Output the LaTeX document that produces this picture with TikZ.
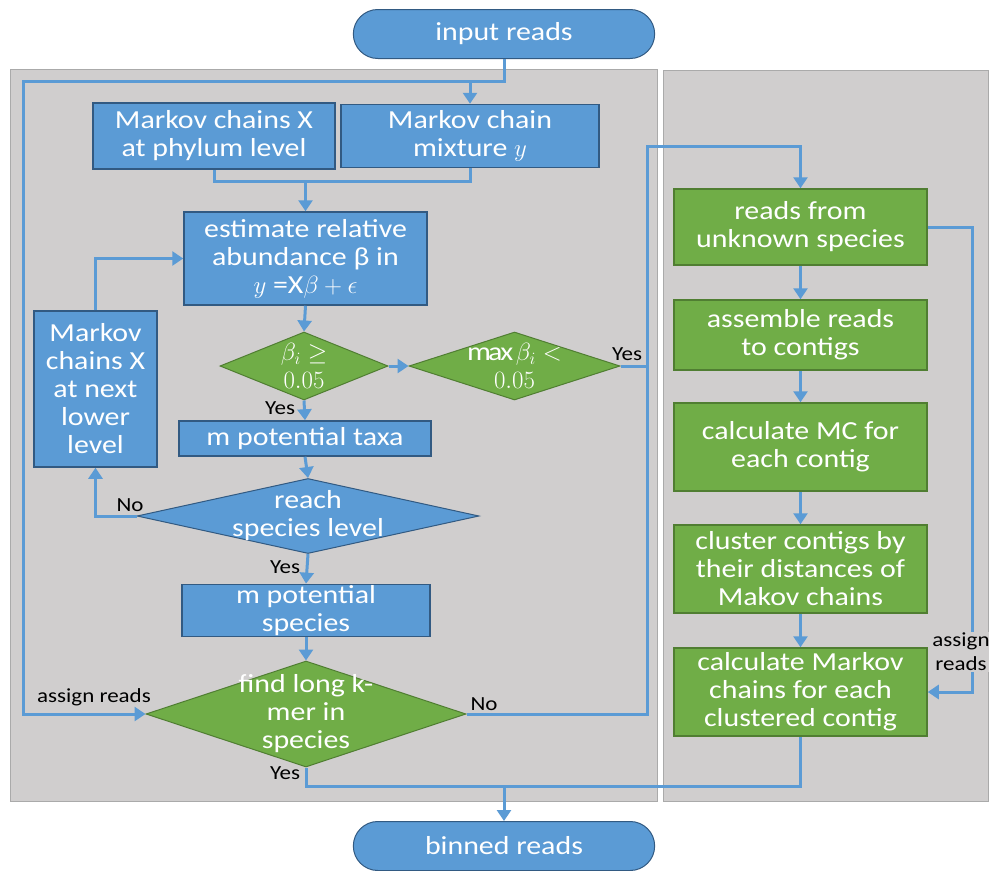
\documentclass[tikz,border=0pt]{standalone}
\usepackage{fontspec}
\setmainfont[FakeStretch=1.15]{Carlito}
\usetikzlibrary{shapes.geometric, shapes.misc, arrows.meta}
\definecolor{bfill}{RGB}{91,155,213}
\definecolor{bdraw}{RGB}{50,90,130}
\definecolor{gfill}{RGB}{112,173,71}
\definecolor{gdraw}{RGB}{80,126,50}
\definecolor{panel}{RGB}{208,206,206}
\definecolor{paneldraw}{RGB}{170,170,170}
\definecolor{flowc}{RGB}{91,155,213}
\tikzset{blockb/.style={draw=bdraw, fill=bfill, line width=1.5pt, text=white, align=center, inner sep=1pt, font=\fontsize{26}{28}\selectfont},
         blockg/.style={blockb, draw=gdraw, fill=gfill},
         terminal/.style={rounded rectangle, draw=bdraw, fill=bfill, line width=1pt, text=white, minimum width=308pt, minimum height=49pt, font=\fontsize{26}{28}\selectfont},
         decb/.style={diamond, draw=bdraw, fill=bfill, line width=1pt, inner sep=0pt},
         decg/.style={decb, draw=gdraw, fill=gfill},
         dtext/.style={text=white, align=center, inner sep=0pt, font=\fontsize{26}{28}\selectfont},
         flow/.style={line width=3pt, draw=flowc},
         note/.style={font=\fontsize{20}{24}\selectfont, inner sep=1pt},
        }

\begin{document}
\begin{tikzpicture}[x=1pt,y=-1pt,>={Triangle[length=11pt,width=14pt]}]
        \useasboundingbox (0,0) rectangle (989,871);
        % panels
        \draw[paneldraw, fill=panel](10,69) rectangle (657,801);
        \draw[paneldraw, fill=panel](663,70) rectangle (988,801);

        \node[terminal](inread)at(504,34){input reads};
        \node[terminal](outread)at(504,846){binned reads};

        \node[blockb,minimum width=242pt,minimum height=66pt](mcx)at(214,136){Markov chains X\\at phylum level};
        \node[blockb,minimum width=258pt,minimum height=63pt](mix)at(470,136){Markov chain\\mixture $y$};
        \node[blockb,minimum width=243pt,minimum height=93pt](est)at(305.5,258.5){estimate relative\\abundance β in\\$y$ =X$\beta+\epsilon$};
        \node[blockb,minimum width=123pt,minimum height=156pt](nxt)at(95.5,389){Markov\\chains X\\at next\\lower\\level};
        \node[decg,minimum width=168pt,minimum height=68pt,label={[dtext]center:{$\beta_i\geq$\\$0.05$}}](d1)at(304,366){};
        \node[decg,minimum width=211pt,minimum height=68pt,label={[dtext]center:{$\max\beta_i<$\\$0.05$}}](d2)at(514.5,366){};
        \node[blockb,minimum width=252pt,minimum height=35pt](taxa)at(305,438.5){m potential taxa};
        \node[decb,minimum width=342pt,minimum height=75pt,label={[dtext]center:{reach\\species level}}](reach)at(308,516){};
        \node[blockb,minimum width=248pt,minimum height=51pt](spec)at(306,610.5){m potential\\species};
        \node[decg,minimum width=320pt,minimum height=106pt,label={[dtext]center:{find long k-\\mer in\\species}}](find)at(306,714){};

        \node[blockg,minimum width=253pt,minimum height=76pt](unk)at(800.5,227){reads from\\unknown species};
        \node[blockg,minimum width=253pt,minimum height=70pt](asm)at(800.5,335){assemble reads\\to contigs};
        \node[blockg,minimum width=253pt,minimum height=88pt](mc)at(800.5,447){calculate MC for\\each contig};
        \node[blockg,minimum width=253pt,minimum height=88pt](clu)at(800.5,569){cluster contigs by\\their distances of\\Makov chains};
        \node[blockg,minimum width=253pt,minimum height=88pt](cmc)at(800.5,692){calculate Markov\\chains for each\\clustered contig};

        \coordinate(jt)at(470,81);
        \coordinate(jm)at(305.5,181);
        \coordinate(jr)at(647,366);
        \coordinate(jb)at(504,786);

        \draw[flow,->](inread.south)--(504,81)-|(23,714)--(find.west);
        \draw[flow,->](jt)--(mix.north);
        \draw[flow](mcx.south)|-(jm)-|(mix.south);
        \draw[flow,->](jm)--(est.north);
        \draw[flow,->](nxt.north)|-(est.west);
        \draw[flow,->](est.south)--(d1.north);
        \draw[flow,->](d1.east)--(d2.west);
        \draw[flow,->](d1.south)--(taxa.north);
        \draw[flow,->](taxa.south)--(reach.north);
        \draw[flow,->](reach.west)-|(nxt.south);
        \draw[flow,->](reach.south)--(spec.north);
        \draw[flow,->](spec.south)--(find.north);
        \draw[flow,->](d2.east)-|(647,146)-|(unk.north);
        \draw[flow](find.east)-|(jr);
        \draw[flow](find.south)|-(jb);
        \draw[flow](cmc.south)|-(jb);
        \draw[flow,->](jb)--(outread.north);

        \draw[flow,->](unk.east)--(972,227)|-(cmc.east);
        \draw[flow,->](unk.south)--(asm.north);
        \draw[flow,->](asm.south)--(mc.north);
        \draw[flow,->](mc.south)--(clu.north);
        \draw[flow,->](clu.south)--(cmc.north);

        % edge labels
        \node[note](lar)at(94,697){assign reads};
        \node[note,fill=panel,align=center](lar2)at(961,652){assign\\reads};
        \node[note](ly1)at(280,408){Yes};
        \node[note](ly2)at(627,354){Yes};
        \node[note](ly3)at(285,567){Yes};
        \node[note](ly4)at(285,773){Yes};
        \node[note](ln1)at(130,505){No};
        \node[note](ln2)at(484,704){No};
    \end{tikzpicture}
\end{document}
